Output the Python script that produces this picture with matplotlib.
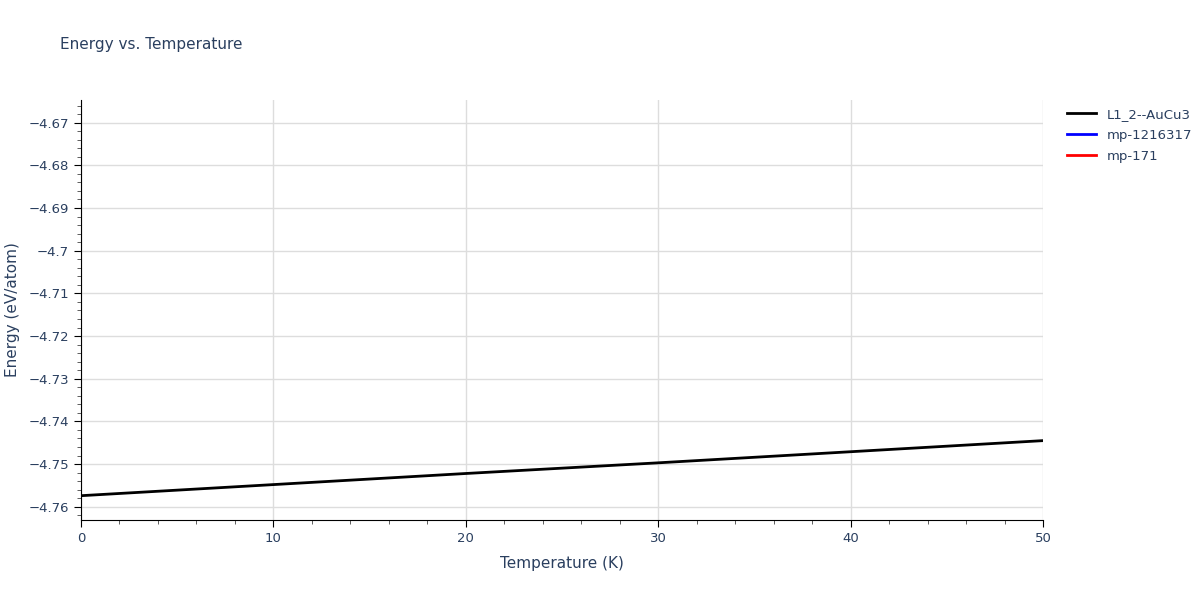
import matplotlib
matplotlib.use('Agg')
import matplotlib.pyplot as plt
from matplotlib.ticker import MultipleLocator

temperature = [0, 10, 20, 30, 40, 50]
energy_l12 = [-4.7574, -4.7548, -4.7522, -4.7497, -4.7471, -4.7445]
energy_mp1216317 = []
energy_mp171 = []

txt = '#2a3f5f'
plt.rcParams['font.family'] = ['DejaVu Sans']

fig = plt.figure(figsize=(12, 6), dpi=100)
ax = fig.add_axes([0.0675, 0.1333, 0.8017, 0.7])

ax.plot(temperature, energy_l12, color='black', lw=2, label='L1_2--AuCu3')
ax.plot(energy_mp1216317, energy_mp1216317, color='blue', lw=2, label='mp-1216317')
ax.plot(energy_mp171, energy_mp171, color='red', lw=2, label='mp-171')

ax.set_xlim(0, 50)
ax.set_ylim(-4.7631, -4.6647)
ax.xaxis.set_major_locator(MultipleLocator(10))
ax.xaxis.set_minor_locator(MultipleLocator(2))
ax.yaxis.set_major_locator(MultipleLocator(0.01))
ax.yaxis.set_minor_locator(MultipleLocator(0.002))
ax.yaxis.set_major_formatter(plt.FuncFormatter(lambda v, p: ('%.2f' % v).rstrip('0').replace('-', '\u2212')))

ax.grid(True, which='major', color='#dddddd', lw=1)
ax.set_axisbelow(True)
for s in ['top', 'right']:
    ax.spines[s].set_visible(False)
for s in ['left', 'bottom']:
    ax.spines[s].set_color('black')
ax.tick_params(which='major', length=5, color='black', labelsize=9.5, labelcolor=txt, direction='out')
ax.tick_params(which='minor', length=3, color='#444444', direction='out')

ax.set_xlabel('Temperature (K)', fontsize=11, color=txt, labelpad=8)
ax.set_ylabel('Energy (eV/atom)', fontsize=11, color=txt, labelpad=6)
fig.text(0.05, 0.925, 'Energy vs. Temperature', fontsize=11, color=txt, va='center')

leg = ax.legend(loc='upper left', bbox_to_anchor=(1.013, 1.01), frameon=False, fontsize=9.5,
                handlelength=2.2, labelspacing=0.6)
for t in leg.get_texts():
    t.set_color(txt)

fig.savefig('out.png', dpi=100)
